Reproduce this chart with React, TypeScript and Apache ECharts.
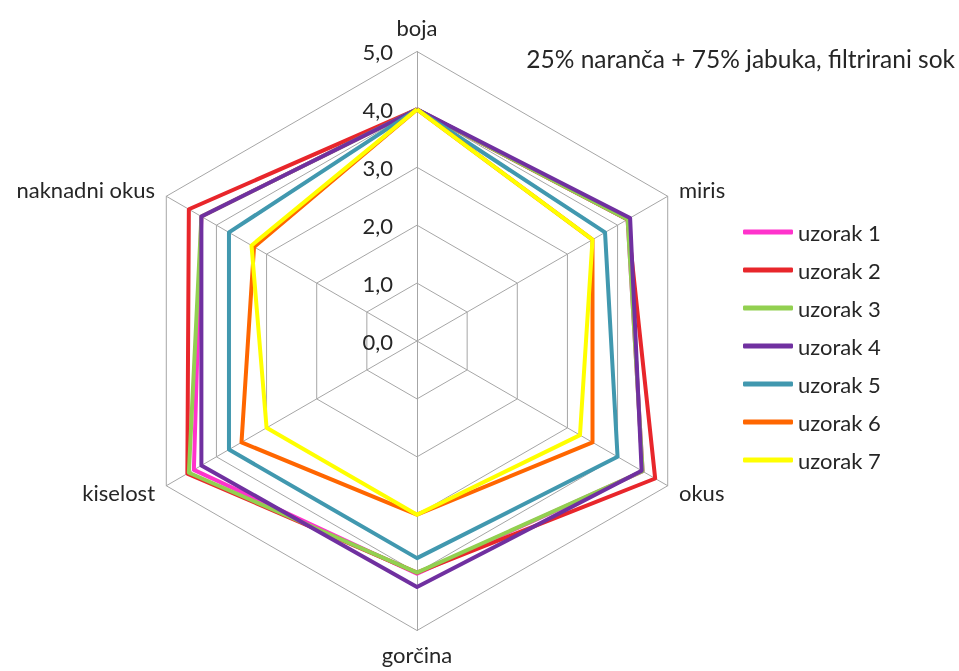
import React, { useEffect, useRef } from "react";
import * as echarts from "echarts";

// Axes in clockwise order starting at the top (as in the reference)
const categories = ["boja", "miris", "okus", "gorčina", "kiselost", "naknadni okus"];
const seriesNames = ["uzorak 1", "uzorak 2", "uzorak 3", "uzorak 4", "uzorak 5", "uzorak 6", "uzorak 7"];
const seriesColors = ["#FF33CC", "#E8262B", "#92D050", "#7030A0", "#4198AF", "#FF6600", "#FFFF00"];

const uzorak1 = [4.0, 4.2, 4.5, 4.02, 4.45, 4.3];
const uzorak2 = [4.0, 4.2, 4.75, 4.0, 4.58, 4.55];
const uzorak3 = [4.0, 4.2, 4.5, 4.0, 4.55, 4.3];
const uzorak4 = [4.0, 4.25, 4.48, 4.25, 4.3, 4.3];
const uzorak5 = [4.0, 3.75, 4.0, 3.75, 3.75, 3.75];
const uzorak6 = [4.0, 3.5, 3.5, 3.0, 3.5, 3.25];
const uzorak7 = [4.0, 3.5, 3.25, 3.0, 3.0, 3.3];
const seriesValues = [uzorak1, uzorak2, uzorak3, uzorak4, uzorak5, uzorak6, uzorak7];

const axisMax = 5;
const titleText = "25% naranča + 75% jabuka, filtrirani sok";

// ECharts places radar indicators counter-clockwise; reorder to match clockwise layout
const order = [0, 5, 4, 3, 2, 1];

const FONT = "Lato";
const TEXT_COLOR = "#262626";
const GRID_COLOR = "#A6A6A6";

export default function App() {
  const ref = useRef<HTMLDivElement>(null);
  useEffect(() => {
    if (!ref.current) return;
    const chart = echarts.init(ref.current, undefined, { renderer: "svg" });
    const indicator = order.map((i, k) => ({
      name: categories[i],
      min: 0,
      max: axisMax,
      axisLabel:
        k === 0
          ? {
              show: true,
              formatter: (v: number) => v.toFixed(1).replace(".", ","),
            }
          : { show: false },
    }));
    chart.setOption({
      animation: false,
      textStyle: { fontFamily: FONT },
      title: {
        text: titleText,
        right: -1,
        top: 41,
        textStyle: { fontFamily: FONT, fontSize: 24.5, fontWeight: "normal", color: TEXT_COLOR },
      },
      legend: {
        orient: "vertical",
        left: 738,
        top: 215,
        itemWidth: 50,
        itemHeight: 5,
        itemGap: 14,
        icon: "roundRect",
        data: seriesNames,
        textStyle: { fontFamily: FONT, fontSize: 22, color: TEXT_COLOR, lineHeight: 24 },
      },
      radar: {
        center: [417, 341],
        radius: 289.5,
        shape: "polygon",
        splitNumber: 5,
        nameGap: 13,
        axisName: { color: TEXT_COLOR, fontFamily: FONT, fontSize: 22 },
        axisLine: { show: true, lineStyle: { color: GRID_COLOR, width: 1 } },
        splitLine: { show: true, lineStyle: { color: GRID_COLOR, width: 1 } },
        splitArea: { show: false },
        axisTick: { show: false },
        axisLabel: {
          show: false,
          color: TEXT_COLOR,
          fontFamily: FONT,
          fontSize: 22,
          margin: 24,
          padding: [8, 0, 0, 0],
        },
        indicator,
      },
      series: [
        {
          type: "radar",
          symbol: "none",
          data: seriesNames.map((name, s) => ({
            name,
            value: order.map((i) => seriesValues[s][i]),
            itemStyle: { color: seriesColors[s] },
            lineStyle: { color: seriesColors[s], width: 4 },
          })),
        },
      ],
    });
    return () => chart.dispose();
  }, []);
  return (
    <div
      ref={ref}
      style={{ position: "fixed", left: 0, top: 0, width: 959, height: 671 }}
    />
  );
}
